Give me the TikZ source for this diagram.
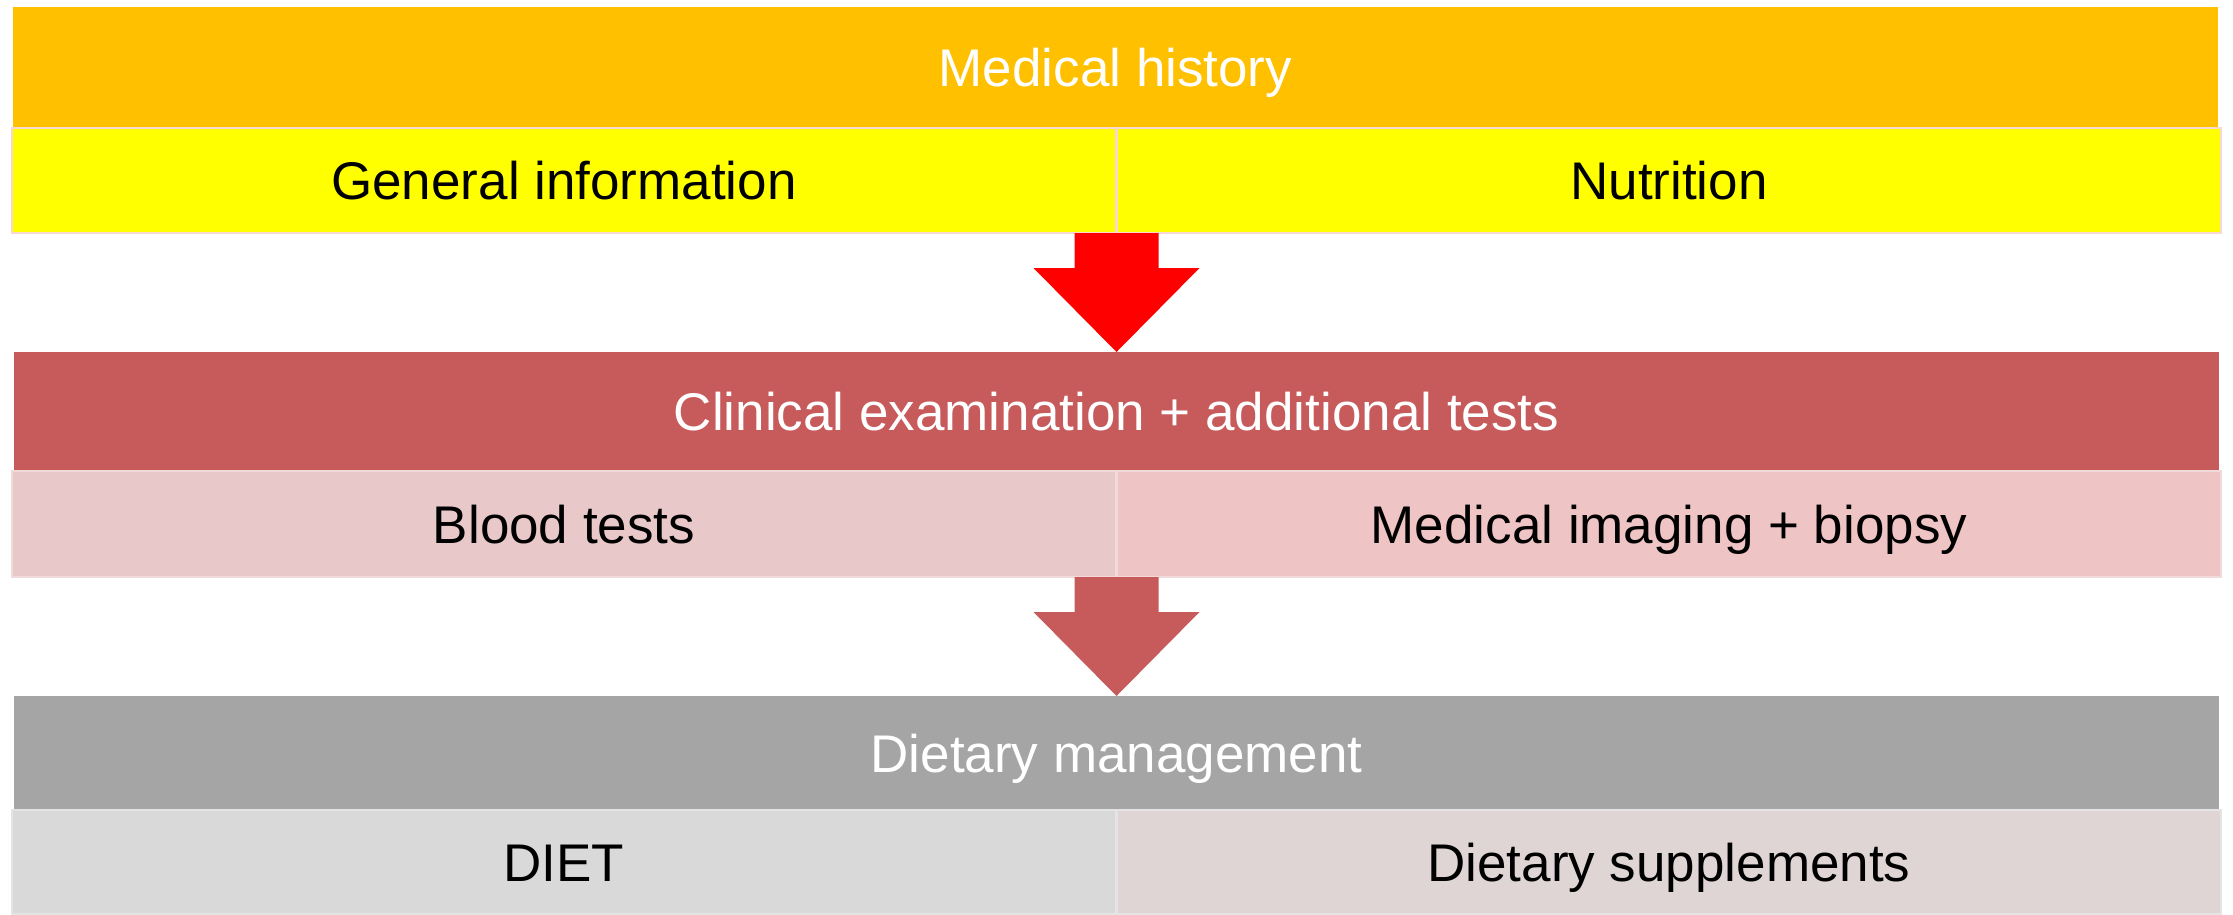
\documentclass[tikz,border=0pt]{standalone}
\usepackage{fontspec}
\setmainfont{Liberation Sans}
\usetikzlibrary{calc}
\definecolor{cOrange}{HTML}{FFC000}
\definecolor{cYellow}{HTML}{FFFF00}
\definecolor{cRed}{HTML}{FF0000}
\definecolor{cBrick}{HTML}{C75B5B}
\definecolor{cPinkL}{HTML}{E8C8C8}
\definecolor{cPinkR}{HTML}{EFC4C4}
\definecolor{cGray}{HTML}{A5A5A5}
\definecolor{cLight}{HTML}{D9D9D9}
\definecolor{cLightR}{HTML}{DFD5D5}
\definecolor{cEdgeY}{HTML}{F8D8D0}
\definecolor{cEdgeP}{HTML}{F2DADA}
\definecolor{cEdgeG}{HTML}{E4E4E4}
\begin{document}
\begin{tikzpicture}[x=1pt,y=-1pt,
  txt/.style={font=\fontsize{53}{60}\selectfont,text height=48pt,text depth=10pt},
  head/.style={txt,anchor=north west,inner sep=0pt,outer sep=0pt,minimum width=2205pt,minimum height=#1,text=white},
  cell/.style={txt,anchor=north west,inner sep=0pt,outer sep=0pt,minimum width=1104pt,minimum height=#1,text=black,line width=1.5pt}]
\useasboundingbox (0,0) rectangle (2233,914);
\fill[white] (0,0) rectangle (2233,914);
% level 1
\node[head=120pt,fill=cOrange] (mh) at (13,7) {Medical history};
\node[cell=105pt,fill=cYellow,draw=cEdgeY] (gi) at (12,128) {General information};
\node[cell=105pt,fill=cYellow,draw=cEdgeY] (nu) at (1117,128) {Nutrition};
% level 2
\node[head=119pt,fill=cBrick] (ce) at (14,352) {Clinical examination + additional tests};
\node[cell=106pt,fill=cPinkL,draw=cEdgeP] (bt) at (12,471) {Blood tests};
\node[cell=106pt,fill=cPinkR,draw=cEdgeP] (mi) at (1117,471) {Medical imaging + biopsy};
% level 3
\node[head=114pt,fill=cGray] (dm) at (14,696) {Dietary management};
\node[cell=104pt,fill=cLight,draw=cEdgeG] (di) at (12,810) {DIET};
\node[cell=104pt,fill=cLightR,draw=cEdgeG] (ds) at (1117,810) {Dietary supplements};
% arrows
\coordinate (a1) at ($(gi.south east)!0.5!(nu.south west)$);
\coordinate (t1) at (a1 |- ce.north);
\fill[cRed] ($(a1)+(-42,0)$) -- ($(a1)+(42,0)$) -- ($(a1)+(42,35)$) -- ($(a1)+(83,35)$)
  -- (t1) -- ($(a1)+(-83,35)$) -- ($(a1)+(-42,35)$) -- cycle;
\coordinate (a2) at ($(bt.south east)!0.5!(mi.south west)$);
\coordinate (t2) at (a2 |- dm.north);
\fill[cBrick] ($(a2)+(-42,0)$) -- ($(a2)+(42,0)$) -- ($(a2)+(42,35)$) -- ($(a2)+(83,35)$)
  -- (t2) -- ($(a2)+(-83,35)$) -- ($(a2)+(-42,35)$) -- cycle;
\end{tikzpicture}
\end{document}
